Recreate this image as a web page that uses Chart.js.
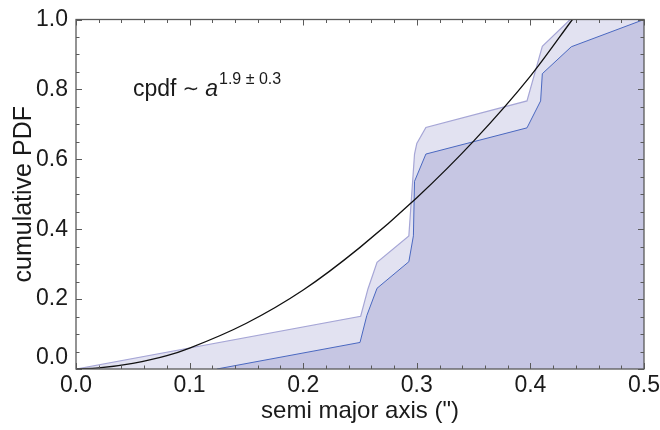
<!DOCTYPE html>
<html>
<head>
<meta charset="utf-8">
<script src="https://cdn.jsdelivr.net/npm/chart.js@4.4.1/dist/chart.umd.min.js"></script>
<style>
  html, body { margin: 0; padding: 0; background: #fff; }
  #wrap { width: 660px; height: 430px; }
</style>
</head>
<body>
<div id="wrap"><canvas id="c"></canvas></div>
<script>
// --- data ---
const upperX = [0, 0.2506, 0.257, 0.265, 0.293, 0.298, 0.300, 0.308, 0.397, 0.4105, 0.435, 0.5];
const upperY = [0, 0.151, 0.229, 0.305, 0.381, 0.615, 0.645, 0.691, 0.767, 0.923, 1.0, 1.0];

const lowerX = [0.124, 0.250, 0.256, 0.265, 0.293, 0.297, 0.298, 0.308, 0.397, 0.409, 0.4105, 0.436, 0.5];
const lowerY = [0, 0.076, 0.153, 0.231, 0.307, 0.381, 0.537, 0.615, 0.690, 0.767, 0.845, 0.922, 1.0];

const modelX = [0, 0.02, 0.05, 0.08, 0.1, 0.15, 0.2, 0.25, 0.3, 0.35, 0.4, 0.437];
const modelY = [0, 0.003, 0.016, 0.038, 0.06, 0.131, 0.226, 0.348, 0.49, 0.652, 0.838, 1.0];

const xTicks = [0, 0.1, 0.2, 0.3, 0.4, 0.5];
const yTicks = [0, 0.2, 0.4, 0.6, 0.8, 1.0];

const FONT = "'Liberation Sans', Arial, Helvetica, sans-serif";
const toPts = (xs, ys) => xs.map((x, i) => ({ x, y: ys[i] }));

// frame with inward ticks on all four sides
const framePlugin = {
  id: "frame",
  afterDatasetsDraw(chart) {
    const { ctx, chartArea: a, scales: { x, y } } = chart;
    ctx.save();
    ctx.strokeStyle = "#5a5a5a";
    ctx.lineWidth = 1.3;
    ctx.strokeRect(a.left, a.top, a.right - a.left, a.bottom - a.top);
    ctx.lineWidth = 1;
    ctx.beginPath();
    for (let i = 0; i <= 25; i++) {
      const px = Math.round(x.getPixelForValue(i * 0.02)) + 0.5;
      const len = i % 5 === 0 ? 6 : 3.5;
      ctx.moveTo(px, a.bottom); ctx.lineTo(px, a.bottom - len);
      ctx.moveTo(px, a.top); ctx.lineTo(px, a.top + len);
    }
    for (let i = 0; i <= 20; i++) {
      const py = Math.round(y.getPixelForValue(i * 0.05)) + 0.5;
      const len = i % 4 === 0 ? 6 : 3.5;
      ctx.moveTo(a.left, py); ctx.lineTo(a.left + len, py);
      ctx.moveTo(a.right, py); ctx.lineTo(a.right - len, py);
    }
    ctx.stroke();
    ctx.restore();
  },
};

// "cpdf ~ a^(1.9 ± 0.3)" label
const notePlugin = {
  id: "note",
  afterDraw(chart) {
    const { ctx } = chart;
    ctx.save();
    ctx.fillStyle = "#1a1a1a";
    ctx.textBaseline = "alphabetic";
    let x0 = 133;
    const base = 96;
    ctx.font = "23px " + FONT;
    ctx.fillText("cpdf", x0, base);
    x0 += ctx.measureText("cpdf").width + 6;
    ctx.font = "20px 'DejaVu Sans', sans-serif";
    ctx.fillText("\u223C", x0, base - 1);
    x0 += ctx.measureText("\u223C").width + 6;
    ctx.font = "italic 23px " + FONT;
    ctx.fillText("a", x0, base);
    x0 += ctx.measureText("a").width + 1;
    ctx.font = "16px " + FONT;
    ctx.fillText("1.9 \u00B1 0.3", x0, base - 12);
    ctx.restore();
  },
};

new Chart(document.getElementById("c"), {
  type: "line",
  data: {
    datasets: [
      {
        label: "model",
        data: toPts(modelX, modelY),
        borderColor: "#111",
        borderWidth: 1.3,
        pointRadius: 0,
        fill: false,
        cubicInterpolationMode: "monotone",
        order: 1,
      },
      {
        label: "lower",
        data: toPts(lowerX, lowerY),
        borderColor: "#4a68c0",
        borderWidth: 1,
        pointRadius: 0,
        fill: "origin",
        backgroundColor: "#c6c6e3",
        tension: 0,
        order: 2,
      },
      {
        label: "upper",
        data: toPts(upperX, upperY),
        borderColor: "#a6a6d6",
        borderWidth: 1.2,
        pointRadius: 0,
        fill: "origin",
        backgroundColor: "#e2e2f1",
        tension: 0,
        order: 3,
      },
    ],
  },
  options: {
    responsive: true,
    maintainAspectRatio: false,
    animation: false,
    events: [],
    layout: { padding: { top: 18, right: 16, left: 5, bottom: 0 } },
    plugins: { legend: { display: false }, tooltip: { enabled: false } },
    scales: {
      x: {
        type: "linear",
        min: 0,
        max: 0.5,
        afterFit: (s) => { s.height = 61; s.paddingRight = 0; s.paddingLeft = 0; },
        afterBuildTicks: (s) => { s.ticks = xTicks.map((v) => ({ value: v })); },
        grid: { display: false, drawTicks: false },
        border: { display: false },
        ticks: {
          color: "#1a1a1a",
          padding: 3,
          font: { family: FONT, size: 23 },
          callback: (v) => v.toFixed(1),
        },
        title: {
          display: true,
          text: "semi major axis (\")",
          color: "#1a1a1a",
          font: { family: FONT, size: 24 },
        },
      },
      y: {
        min: 0,
        max: 1,
        afterFit: (s) => { s.width = 71; },
        afterBuildTicks: (s) => { s.ticks = yTicks.map((v) => ({ value: v })); },
        grid: { display: false, drawTicks: false },
        border: { display: false },
        ticks: {
          color: "#1a1a1a",
          padding: 8,
          font: { family: FONT, size: 23, lineHeight: 1.0 },
          callback: (v) => (v === 0 ? ["0.0", ""] : v.toFixed(1)),
        },
        title: {
          display: true,
          text: "cumulative PDF",
          color: "#1a1a1a",
          font: { family: FONT, size: 25 },
        },
      },
    },
  },
  plugins: [framePlugin, notePlugin],
});
</script>
</body>
</html>
